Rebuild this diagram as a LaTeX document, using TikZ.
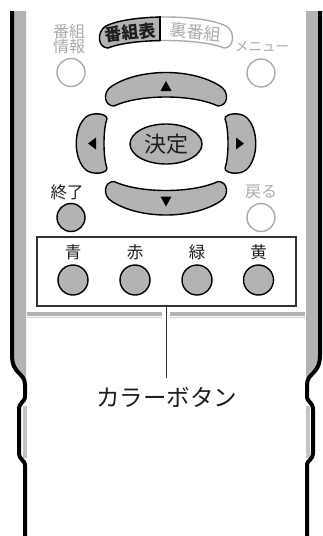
\documentclass[tikz,border=0pt]{standalone}
\usepackage{fontspec}
\newfontfamily\jp{Noto Sans CJK JP}
\definecolor{btn}{HTML}{B3B3B3}
\definecolor{lt}{HTML}{ABABAB}
\definecolor{dk}{HTML}{1E1E1E}
\definecolor{boxc}{HTML}{333333}
\definecolor{strip}{HTML}{C4C4C4}
\definecolor{sepl}{HTML}{D2D2D2}
\begin{document}
\begin{tikzpicture}[x=1pt,y=-1pt,
  outl/.style={line width=4pt, black, line join=round},
  gbtn/.style={fill=btn, draw=black, line width=1.4pt},
  wbtn/.style={fill=white, draw=lt, line width=1.4pt},
  lbl/.style={font=\jp\fontsize{16.5}{16.5}\selectfont, inner sep=0pt, text=dk},
  glbl/.style={font=\jp\fontsize{16}{15}\selectfont, inner sep=0pt, text=lt},
  rbtn/.style={circle, minimum size=28pt, inner sep=0pt},
]
\useasboundingbox (0,0) rectangle (323,536);
\fill[white] (0,0) rectangle (323,536);
% side bands
\fill[btn] (12,11) -- (12,355) .. controls (12,375) and (25,372) .. (25,385) -- (26,385) -- (26,11) -- cycle;
\fill[btn] (320,11) -- (320,355) .. controls (320,375) and (307,372) .. (307,385) -- (306,385) -- (306,11) -- cycle;
% bump strips
\fill[strip] (22.5,406) rectangle (26.5,458);
\fill[strip] (305.5,406) rectangle (309.5,458);
% outline
\draw[outl] (12,11) -- (12,355) .. controls (12,375) and (25,372) .. (25,385) -- (25,396) .. controls (25,403) and (19,401) .. (19,410) -- (19,452) .. controls (19,461) and (25,459) .. (25,466) -- (25,537);
\draw[outl] (320,11) -- (320,355) .. controls (320,375) and (307,372) .. (307,385) -- (307,396) .. controls (307,403) and (313,401) .. (313,410) -- (313,452) .. controls (313,461) and (307,459) .. (307,466) -- (307,537);
% separator
\fill[btn] (27,312) rectangle (162,316);
\fill[btn] (170,312) rectangle (305,316);
\fill[sepl] (27,316.8) rectangle (162,318.2);
\fill[sepl] (170,316.8) rectangle (305,318.2);
% top labels and buttons
\node[glbl, align=center] (info) at (69,39) {番組\\情報};
\node[rbtn, wbtn] (binfo) at (71,72.5) {};
\node[glbl, font=\jp\fontsize{13.5}{13.5}\selectfont] (menu) at (262,47) {メニュー};
\node[rbtn, wbtn] (bmenu) at (261,73) {};
% pill
\path[wbtn] (106,26) .. controls (130,14) and (202,14) .. (226,26) .. controls (236,32) and (234,48) .. (224,48) .. controls (200,38) and (132,38) .. (108,48) .. controls (98,48) and (96,32) .. (106,26) -- cycle;
\begin{scope}
\clip (0,0) rectangle (160,60);
\path[gbtn] (106,26) .. controls (130,14) and (202,14) .. (226,26) .. controls (236,32) and (234,48) .. (224,48) .. controls (200,38) and (132,38) .. (108,48) .. controls (98,48) and (96,32) .. (106,26) -- cycle;
\end{scope}
\draw[black, line width=1.4pt] (160,16.3) -- (160,41.3);
\node[lbl, font=\jp\bfseries\fontsize{17}{17}\selectfont, rotate=6] (bangumi) at (130.5,32.5) {番組表};
\node[glbl, font=\jp\fontsize{17}{17}\selectfont, rotate=-6] (ura) at (196,32) {裏番組};
% up / down
\path[gbtn] (112,86) .. controls (140,68) and (192,68) .. (220,86) .. controls (230,92) and (228,106) .. (218,106) .. controls (192,94) and (140,94) .. (114,106) .. controls (104,106) and (102,92) .. (112,86) -- cycle;
\fill[black] (166,81) -- (171.5,91) -- (160.5,91) -- cycle;
\path[gbtn] (112,201.5) .. controls (140,219.5) and (192,219.5) .. (220,201.5) .. controls (230,195.5) and (228,181.5) .. (218,181.5) .. controls (192,193.5) and (140,193.5) .. (114,181.5) .. controls (104,181.5) and (102,195.5) .. (112,201.5) -- cycle;
\fill[black] (166,206.5) -- (171.5,196.5) -- (160.5,196.5) -- cycle;
% left / right
\path[gbtn] (86,117) .. controls (73,128) and (73,159) .. (86,170) .. controls (92,175) and (107,174) .. (107,168) .. controls (103,158) and (103,129) .. (107,119) .. controls (107,113) and (92,112) .. (86,117) -- cycle;
\fill[black] (88,143.5) -- (96,137.5) -- (96,149.5) -- cycle;
\path[gbtn] (246,117) .. controls (259,128) and (259,159) .. (246,170) .. controls (240,175) and (225,174) .. (225,168) .. controls (229,158) and (229,129) .. (225,119) .. controls (225,113) and (240,112) .. (246,117) -- cycle;
\fill[black] (244,143.5) -- (236,137.5) -- (236,149.5) -- cycle;
% enter
\path[gbtn] (166,144) ellipse [x radius=36, y radius=20];
\node[lbl, font=\jp\fontsize{22}{22}\selectfont] (kettei) at (166,144) {決定};
% exit / back
\node[lbl] (shuryo) at (67,192) {終了};
\node[rbtn, gbtn] (bshu) at (71,217.5) {};
\node[glbl] (modoru) at (261,192) {戻る};
\node[rbtn, wbtn] (bmod) at (261,217.5) {};
% color box
\node[draw=boxc, line width=1.5pt, minimum width=259pt, minimum height=69pt, inner sep=0pt] (box) at (166.5,271.5) {};
\foreach \x/\t/\n in {73/青/a,135/赤/b,197/緑/c,258.5/黄/d} {
  \node[lbl] (l\n) at (\x,252.5) {\t};
  \node[rbtn, gbtn, minimum size=30pt] (c\n) at (\x,280) {};
}
% connector and caption
\coordinate (lineend) at (166.5,378);
\draw[boxc, line width=1.5pt] (box.south) -- (lineend);
\node[lbl, font=\jp\fontsize{23.5}{23.5}\selectfont] (cap) at (166.5,397) {カラーボタン};
\end{tikzpicture}
\end{document}
